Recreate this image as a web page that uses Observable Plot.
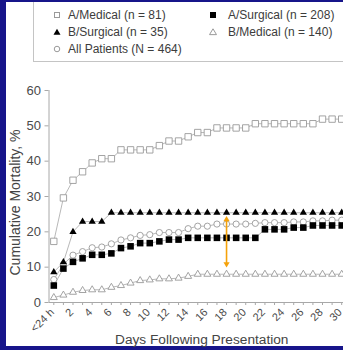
<!DOCTYPE html>
<html>
<head>
<meta charset="utf-8">
<script src="https://cdn.jsdelivr.net/npm/d3@7"></script>
<script src="https://cdn.jsdelivr.net/npm/@observablehq/plot@0.6"></script>
<style>
html,body{margin:0;padding:0;}
body{width:343px;height:350px;background:#17158a;position:relative;overflow:hidden;font-family:"Liberation Sans",Arial,Helvetica,sans-serif;}
#panel{position:absolute;left:6px;top:2px;width:337px;height:344px;background:#fff;overflow:hidden;}
#legend{position:absolute;left:27px;top:-3px;width:340px;height:63px;border:1px solid #c4c4c4;box-sizing:border-box;}
.item{position:absolute;font-size:12px;color:#3c3c3c;line-height:14px;white-space:nowrap;}
.item svg{position:absolute;left:0;top:0;}
.item span{position:absolute;top:0;}
#chart{position:absolute;left:0;top:0;width:350px;height:350px;}
#chart svg{max-width:none !important;width:350px;height:350px;}
</style>
</head>
<body>
<div id="panel"><div id="legend"></div></div>
<div id="chart"></div>
<script>
// ---- data ----
const days = [0,1,2,3,4,5,6,7,8,9,10,11,12,13,14,15,16,17,18,19,20,21,22,23,24,25,26,27,28,29,30];
const xTickValues = [0,2,4,6,8,10,12,14,16,18,20,22,24,26,28,30];
const xTickLabels = ["<24 h","2","4","6","8","10","12","14","16","18","20","22","24","26","28","30"];
const yTicks = [0,10,20,30,40,50,60];

const aMedical    = [17.3,29.6,34.6,37.0,39.5,40.7,40.7,43.2,43.2,43.2,43.2,44.4,45.7,45.7,46.9,48.1,48.1,49.4,49.4,49.4,49.4,50.6,50.6,50.6,50.6,50.6,50.6,50.6,51.9,51.9,51.9];
const aSurgical   = [4.8,9.6,11.5,12.5,13.5,13.5,13.9,15.4,15.9,16.8,16.8,17.3,17.8,17.8,18.3,18.3,18.3,18.3,18.3,18.3,18.3,18.3,20.7,20.7,20.7,21.2,21.2,21.8,21.8,21.8,21.8];
const bSurgical   = [8.6,11.4,20.0,22.9,22.9,22.9,25.4,25.4,25.4,25.4,25.4,25.4,25.4,25.4,25.4,25.4,25.4,25.4,25.4,25.4,25.4,25.4,25.4,25.4,25.4,25.4,25.4,25.4,25.4,25.4,25.4];
const bMedical    = [1.4,2.1,2.9,3.4,3.6,3.6,4.3,4.8,5.5,6.2,6.4,6.7,6.7,6.9,7.4,8.0,8.0,8.0,8.0,8.0,8.0,8.0,8.0,8.0,8.0,8.0,8.0,8.0,8.0,8.0,8.0];
const allPatients = [6.5,10.8,13.4,14.4,15.5,15.7,16.6,17.7,18.3,19.0,19.2,19.8,19.8,19.8,20.9,21.6,21.6,22.2,22.2,22.2,22.2,22.4,22.6,22.6,22.6,22.8,22.8,23.1,23.1,23.3,23.3];

const seriesNames  = ["A/Medical","A/Surgical","B/Surgical","B/Medical","All Patients"];
const legendLabels = ["A/Medical (n = 81)","A/Surgical (n = 208)","B/Surgical (n = 35)","B/Medical (n = 140)","All Patients (N = 464)"];

// annotation arrow (day, from, to)
const arrowDay = 18, arrowLow = 10.9, arrowHigh = 23.5;

// ---- build tables ----
const table = (vals) => days.map((d, i) => ({day: d, value: vals[i]}));
const tA_M = table(aMedical), tA_S = table(aSurgical), tB_S = table(bSurgical), tB_M = table(bMedical), tAll = table(allPatients);

const lineGrey = "#a6a6a6", markGrey = "#9a9a9a", orange = "#f5a20a", axisGrey = "#a8a8a8";

const chart = Plot.plot({
  width: 350, height: 350,
  marginLeft: 48.5, marginRight: 4, marginTop: 90, marginBottom: 48,
  x: {domain: [-0.5, 30.5]},
  y: {domain: [0, 60]},
  style: {background: "transparent", fontFamily: "'Liberation Sans', Arial, Helvetica, sans-serif", fontSize: "13px", color: "#444", overflow: "visible"},
  marks: [
    Plot.ruleX([-0.5], {stroke: axisGrey}),
    Plot.ruleY([0], {stroke: axisGrey}),
    Plot.axisY({ticks: yTicks, tickSize: 4, tickPadding: 4, stroke: axisGrey, fill: "#4a4a4a", fontSize: 13, label: null}),
    Plot.axisX({ticks: days, tickSize: 3, tickFormat: () => "", stroke: axisGrey, label: null}),
    Plot.axisX({ticks: xTickValues, tickSize: 0, tickPadding: 8, tickRotate: -45, dx: -1.5, fill: "#4a4a4a", fontSize: 11,
      tickFormat: (d) => xTickLabels[xTickValues.indexOf(d)], label: null}),
    Plot.text(["Cumulative Mortality, %"], {frameAnchor: "left", rotate: -90, textAnchor: "middle", lineAnchor: "middle", dx: -33.5, dy: 6, fontSize: 14, fill: "#444"}),
    Plot.text(["Days Following Presentation"], {frameAnchor: "bottom", textAnchor: "middle", lineAnchor: "middle", dy: 37, dx: 4, fontSize: 13.7, fill: "#444"}),

    Plot.line(tB_M, {x: "day", y: "value", stroke: lineGrey, strokeWidth: 0.8}),
    Plot.line(tAll, {x: "day", y: "value", stroke: lineGrey, strokeWidth: 0.8}),
    Plot.line(tA_M, {x: "day", y: "value", stroke: lineGrey, strokeWidth: 0.8}),
    Plot.line(tA_S, {x: "day", y: "value", stroke: lineGrey, strokeWidth: 0.8}),
    Plot.line(tB_S, {x: "day", y: "value", stroke: lineGrey, strokeWidth: 0.8}),

    Plot.dot(tB_M, {x: "day", y: "value", symbol: "triangle", r: 2.6, fill: "#fff", stroke: markGrey, strokeWidth: 0.9}),
    Plot.dot(tAll, {x: "day", y: "value", symbol: "circle", r: 3.1, fill: "#fff", stroke: markGrey, strokeWidth: 0.9}),
    Plot.dot(tA_M, {x: "day", y: "value", symbol: "square", r: 3.6, fill: "#fff", stroke: markGrey, strokeWidth: 0.9}),
    Plot.dot(tA_S, {x: "day", y: "value", symbol: "square", r: 3.7, fill: "#000", stroke: "none"}),
    Plot.dot(tB_S, {x: "day", y: "value", symbol: "triangle", r: 2.7, fill: "#000", stroke: "none"}),

    Plot.ruleX([{day: arrowDay, y1: arrowLow, y2: arrowHigh}], {x: "day", y1: "y1", y2: "y2", stroke: orange, strokeWidth: 1.6}),
    Plot.dot([{day: arrowDay, value: arrowHigh}], {x: "day", y: "value", symbol: "triangle", r: 2.3, fill: orange, stroke: "none"}),
    Plot.dot([{day: arrowDay, value: arrowLow}], {x: "day", y: "value", symbol: "triangle", r: 2.3, fill: orange, stroke: "none", rotate: 180})
  ]
});
chart.style.maxWidth = "none";
document.getElementById("chart").appendChild(chart);

// ---- legend ----
const legendStyles = [
  {sym: "square", fill: "#fff", stroke: markGrey, size: 6},
  {sym: "square", fill: "#000", stroke: "none", size: 7},
  {sym: "triangle", fill: "#000", stroke: "none", size: 7},
  {sym: "triangle", fill: "#fff", stroke: markGrey, size: 7},
  {sym: "circle", fill: "#fff", stroke: markGrey, size: 6.5}
];
const legendPos = [[0,0],[1,0],[0,1],[1,1],[0,2]];
const colX = [23, 179], rowY = [15, 32, 49];
const legend = document.getElementById("legend");
legendLabels.forEach((lab, i) => {
  const st = legendStyles[i];
  const [c, r] = legendPos[i];
  const div = document.createElement("div");
  div.className = "item";
  div.style.left = (colX[c] - 5) + "px";
  div.style.top = (rowY[r] - 7) + "px";
  let shape = "";
  const s = st.size, h = s / 2;
  if (st.sym === "square") shape = `<rect x="${5 - h + 0.5}" y="${7 - h + 0.5}" width="${s - 1}" height="${s - 1}" fill="${st.fill}" stroke="${st.stroke}" stroke-width="1"/>`;
  else if (st.sym === "circle") shape = `<circle cx="5" cy="7" r="${h - 0.5}" fill="${st.fill}" stroke="${st.stroke}" stroke-width="1"/>`;
  else shape = `<polygon points="5,${7 - h + 0.3} ${5 + h},${7 + h * 0.75} ${5 - h},${7 + h * 0.75}" fill="${st.fill}" stroke="${st.stroke}" stroke-width="1"/>`;
  div.innerHTML = `<svg width="10" height="14">${shape}</svg><span style="left:${c === 0 ? 16 : 20}px">${lab}</span>`;
  legend.appendChild(div);
});
</script>
</body>
</html>
